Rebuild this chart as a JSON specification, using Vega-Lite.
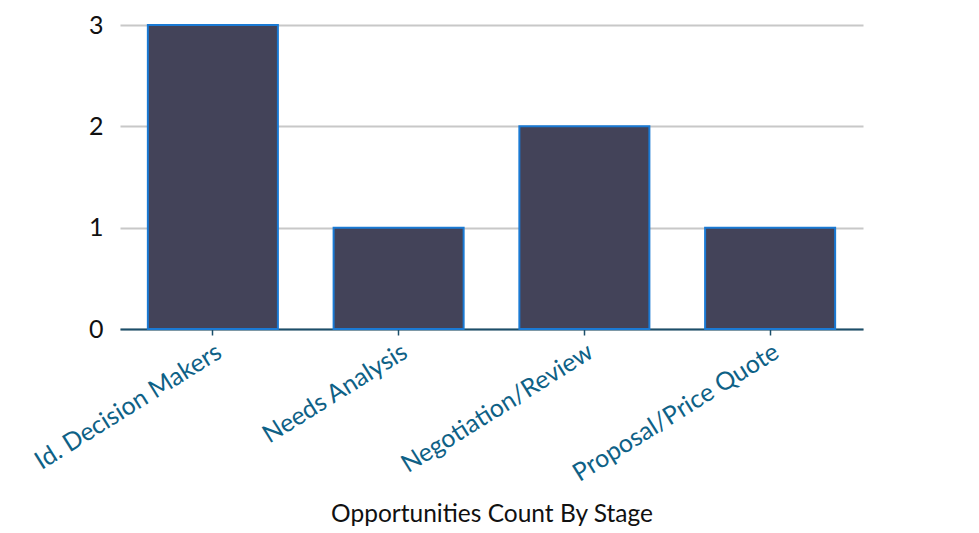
{
  "$schema": "https://vega.github.io/schema/vega-lite/v6.json",
  "autosize": {"type": "none"},
  "width": 743,
  "height": 304,
  "padding": {"left": 120, "top": 25, "right": 116, "bottom": 204},
  "background": "white",
  "config": {
    "view": {"stroke": null},
    "font": "Lato"
  },
  "data": {
    "values": [
      {"stage": "Id. Decision Makers", "count": 3},
      {"stage": "Needs Analysis", "count": 1},
      {"stage": "Negotiation/Review", "count": 2},
      {"stage": "Proposal/Price Quote", "count": 1}
    ]
  },
  "mark": {"type": "bar", "fill": "#434359", "stroke": "#1a7ad4", "strokeWidth": 2},
  "encoding": {
    "x": {
      "field": "stage",
      "type": "nominal",
      "sort": null,
      "scale": {"paddingInner": 0.3, "paddingOuter": 0.15},
      "axis": {
        "title": "Opportunities Count By Stage",
        "titleFontSize": 24.5,
        "titleFontWeight": "normal",
        "titleColor": "#111111",
        "titlePadding": 17,
        "labelAngle": -32,
        "labelFontSize": 25,
        "labelLimit": 0,
        "labelColor": "#0e6186",
        "labelPadding": 4,
        "domainColor": "#1b4f6b",
        "domainWidth": 2,
        "tickColor": "#1b4f6b",
        "tickSize": 6,
        "tickWidth": 1.5,
        "grid": false
      }
    },
    "y": {
      "field": "count",
      "type": "quantitative",
      "scale": {"domain": [0, 3]},
      "axis": {
        "title": null,
        "values": [0, 1, 2, 3],
        "labelFontSize": 25,
        "labelColor": "#111111",
        "labelPadding": 17,
        "domain": false,
        "ticks": false,
        "gridColor": "#c8c8c8",
        "gridWidth": 2
      }
    }
  }
}
